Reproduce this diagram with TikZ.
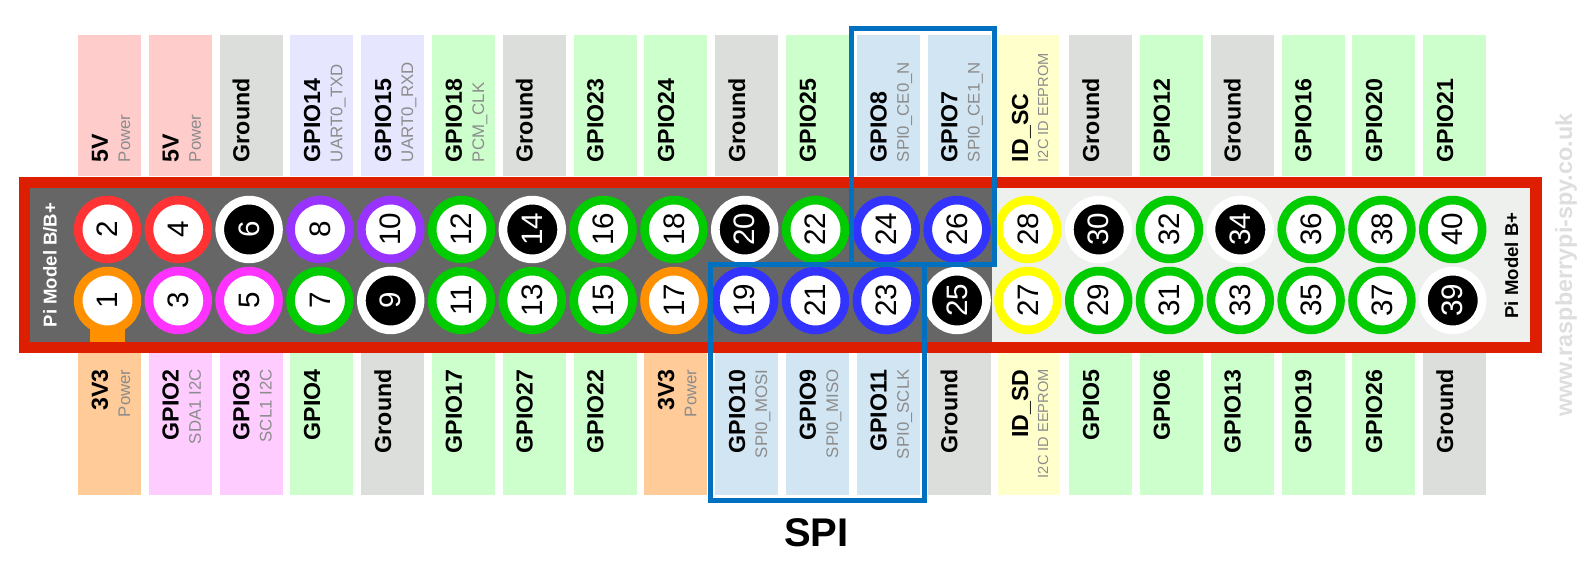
\documentclass[tikz,border=0pt]{standalone}
\usepackage{xcolor}
\usepackage{fontspec}
\setmainfont{Liberation Sans}
\usepackage{tikz}
\definecolor{framered}{HTML}{DD1E00}
\definecolor{boardgrey}{HTML}{666666}
\definecolor{boardlight}{HTML}{EEF0EE}
\definecolor{spiblue}{HTML}{0070C0}
\definecolor{subgrey}{HTML}{8C8C8C}
\definecolor{webgrey}{HTML}{DDDFDD}
\definecolor{ringred}{HTML}{FF3333}
\definecolor{ringorange}{HTML}{FF9000}
\definecolor{ringpink}{HTML}{FF33FF}
\definecolor{ringpurple}{HTML}{9933FF}
\definecolor{ringgreen}{HTML}{00CC00}
\definecolor{ringblue}{HTML}{3333FF}
\definecolor{ringyellow}{HTML}{FFFF00}
\definecolor{stripred}{HTML}{FFCCCC}
\definecolor{striporange}{HTML}{FFCC99}
\definecolor{strippink}{HTML}{FFCCFF}
\definecolor{stripgrey}{HTML}{DCDEDC}
\definecolor{striplilac}{HTML}{E6E6FF}
\definecolor{stripgreen}{HTML}{CCFFCC}
\definecolor{stripblue}{HTML}{D2E5F2}
\definecolor{stripyellow}{HTML}{FFFFCC}
\tikzset{
  pinring/.style={circle, inner sep=0pt, minimum size=29.35pt, line width=4.35pt, fill=white, rotate=90, font=\fontsize{14.8}{14.8}\selectfont},
  pinred/.style={pinring, draw=ringred},
  pinorange/.style={pinring, draw=ringorange},
  pinpink/.style={pinring, draw=ringpink},
  pinpurple/.style={pinring, draw=ringpurple},
  pingreen/.style={pinring, draw=ringgreen},
  pinblue/.style={pinring, draw=ringblue},
  pinyellow/.style={pinring, draw=ringyellow},
  pinground/.style={pinring, draw=white, fill=black, text=white},
  mainlabel/.style={rotate=90, inner sep=0pt, font=\fontsize{11.6}{11.6}\selectfont\bfseries},
  sublabel/.style={rotate=90, inner sep=0pt, text=subgrey, font=\fontsize{8.4}{8.4}\selectfont},
  idlabel/.style={sublabel, font=\fontsize{7.3}{7.3}\selectfont},
  modellabel/.style={rotate=90, inner sep=0pt, font=\fontsize{9.3}{9.3}\selectfont\bfseries},
  spibox/.style={draw=spiblue, line width=2.5pt}
}
\begin{document}
\begin{tikzpicture}[x=0.5pt, y=-0.5pt]
  \useasboundingbox (0,0) rectangle (1594,576);

  % Top strips
  \fill[stripred] (78,35) rectangle +(63,141);
  \fill[stripred] (148.8,35) rectangle +(63,141);
  \fill[stripgrey] (219.6,35) rectangle +(63,141);
  \fill[striplilac] (290.4,35) rectangle +(63,141);
  \fill[striplilac] (361.2,35) rectangle +(63,141);
  \fill[stripgreen] (432,35) rectangle +(63,141);
  \fill[stripgrey] (502.8,35) rectangle +(63,141);
  \fill[stripgreen] (573.6,35) rectangle +(63,141);
  \fill[stripgreen] (644.4,35) rectangle +(63,141);
  \fill[stripgrey] (715.2,35) rectangle +(63,141);
  \fill[stripgreen] (786,35) rectangle +(63,141);
  \fill[stripblue] (856.8,35) rectangle +(63,141);
  \fill[stripblue] (927.6,35) rectangle +(63,141);
  \fill[stripyellow] (998,35) rectangle +(61,141);
  \fill[stripgrey] (1069.2,35) rectangle +(63,141);
  \fill[stripgreen] (1140,35) rectangle +(63,141);
  \fill[stripgrey] (1210.8,35) rectangle +(63,141);
  \fill[stripgreen] (1281.6,35) rectangle +(63,141);
  \fill[stripgreen] (1352.4,35) rectangle +(63,141);
  \fill[stripgreen] (1423.2,35) rectangle +(63,141);

  % Bottom strips
  \fill[striporange] (78,345) rectangle +(63,150);
  \fill[strippink] (148.8,345) rectangle +(63,150);
  \fill[strippink] (219.6,345) rectangle +(63,150);
  \fill[stripgreen] (290.4,345) rectangle +(63,150);
  \fill[stripgrey] (361.2,345) rectangle +(63,150);
  \fill[stripgreen] (432,345) rectangle +(63,150);
  \fill[stripgreen] (502.8,345) rectangle +(63,150);
  \fill[stripgreen] (573.6,345) rectangle +(63,150);
  \fill[striporange] (644.4,345) rectangle +(63,150);
  \fill[stripblue] (715.2,345) rectangle +(63,150);
  \fill[stripblue] (786,345) rectangle +(63,150);
  \fill[stripblue] (856.8,345) rectangle +(63,150);
  \fill[stripgrey] (927.6,345) rectangle +(63,150);
  \fill[stripyellow] (998,345) rectangle +(61,150);
  \fill[stripgreen] (1069.2,345) rectangle +(63,150);
  \fill[stripgreen] (1140,345) rectangle +(63,150);
  \fill[stripgreen] (1210.8,345) rectangle +(63,150);
  \fill[stripgreen] (1281.6,345) rectangle +(63,150);
  \fill[stripgreen] (1352.4,345) rectangle +(63,150);
  \fill[stripgrey] (1423.2,345) rectangle +(63,150);

  % Top labels
  \node[mainlabel, anchor=base west] (lab2) at (107.8,162.5) {5V};
  \node[sublabel, anchor=base west] (sub2) at (130,162.5) {Power};
  \node[mainlabel, anchor=base west] (lab4) at (178.6,162.5) {5V};
  \node[sublabel, anchor=base west] (sub4) at (200.8,162.5) {Power};
  \node[mainlabel, anchor=base west] (lab6) at (249.4,162.5) {Ground};
  \node[mainlabel, anchor=base west] (lab8) at (320.2,162.5) {GPIO14};
  \node[sublabel, anchor=base west] (sub8) at (342.4,162.5) {UART0\_TXD};
  \node[mainlabel, anchor=base west] (lab10) at (391,162.5) {GPIO15};
  \node[sublabel, anchor=base west] (sub10) at (413.2,162.5) {UART0\_RXD};
  \node[mainlabel, anchor=base west] (lab12) at (461.8,162.5) {GPIO18};
  \node[sublabel, anchor=base west] (sub12) at (484,162.5) {PCM\_CLK};
  \node[mainlabel, anchor=base west] (lab14) at (532.6,162.5) {Ground};
  \node[mainlabel, anchor=base west] (lab16) at (603.4,162.5) {GPIO23};
  \node[mainlabel, anchor=base west] (lab18) at (674.2,162.5) {GPIO24};
  \node[mainlabel, anchor=base west] (lab20) at (745,162.5) {Ground};
  \node[mainlabel, anchor=base west] (lab22) at (815.8,162.5) {GPIO25};
  \node[mainlabel, anchor=base west] (lab24) at (886.6,162.5) {GPIO8};
  \node[sublabel, anchor=base west] (sub24) at (908.8,162.5) {SPI0\_CE0\_N};
  \node[mainlabel, anchor=base west] (lab26) at (957.4,162.5) {GPIO7};
  \node[sublabel, anchor=base west] (sub26) at (979.6,162.5) {SPI0\_CE1\_N};
  \node[mainlabel, anchor=base west] (lab28) at (1028.2,162.5) {ID\_SC};
  \node[idlabel, anchor=base west] (sub28) at (1048,162.5) {I2C ID EEPROM};
  \node[mainlabel, anchor=base west] (lab30) at (1099,162.5) {Ground};
  \node[mainlabel, anchor=base west] (lab32) at (1169.8,162.5) {GPIO12};
  \node[mainlabel, anchor=base west] (lab34) at (1240.6,162.5) {Ground};
  \node[mainlabel, anchor=base west] (lab36) at (1311.4,162.5) {GPIO16};
  \node[mainlabel, anchor=base west] (lab38) at (1382.2,162.5) {GPIO20};
  \node[mainlabel, anchor=base west] (lab40) at (1453,162.5) {GPIO21};

  % Bottom labels
  \node[mainlabel, anchor=base east] (lab1) at (107.8,369) {3V3};
  \node[sublabel, anchor=base east] (sub1) at (130,369) {Power};
  \node[mainlabel, anchor=base east] (lab3) at (178.6,369) {GPIO2};
  \node[sublabel, anchor=base east] (sub3) at (200.8,369) {SDA1 I2C};
  \node[mainlabel, anchor=base east] (lab5) at (249.4,369) {GPIO3};
  \node[sublabel, anchor=base east] (sub5) at (271.6,369) {SCL1 I2C};
  \node[mainlabel, anchor=base east] (lab7) at (320.2,369) {GPIO4};
  \node[mainlabel, anchor=base east] (lab9) at (391,369) {Ground};
  \node[mainlabel, anchor=base east] (lab11) at (461.8,369) {GPIO17};
  \node[mainlabel, anchor=base east] (lab13) at (532.6,369) {GPIO27};
  \node[mainlabel, anchor=base east] (lab15) at (603.4,369) {GPIO22};
  \node[mainlabel, anchor=base east] (lab17) at (674.2,369) {3V3};
  \node[sublabel, anchor=base east] (sub17) at (696.4,369) {Power};
  \node[mainlabel, anchor=base east] (lab19) at (745,369) {GPIO10};
  \node[sublabel, anchor=base east] (sub19) at (767.2,369) {SPI0\_MOSI};
  \node[mainlabel, anchor=base east] (lab21) at (815.8,369) {GPIO9};
  \node[sublabel, anchor=base east] (sub21) at (838,369) {SPI0\_MISO};
  \node[mainlabel, anchor=base east] (lab23) at (886.6,369) {GPIO11};
  \node[sublabel, anchor=base east] (sub23) at (908.8,369) {SPI0\_SCLK};
  \node[mainlabel, anchor=base east] (lab25) at (957.4,369) {Ground};
  \node[mainlabel, anchor=base east] (lab27) at (1028.2,369) {ID\_SD};
  \node[idlabel, anchor=base east] (sub27) at (1048,369) {I2C ID EEPROM};
  \node[mainlabel, anchor=base east] (lab29) at (1099,369) {GPIO5};
  \node[mainlabel, anchor=base east] (lab31) at (1169.8,369) {GPIO6};
  \node[mainlabel, anchor=base east] (lab33) at (1240.6,369) {GPIO13};
  \node[mainlabel, anchor=base east] (lab35) at (1311.4,369) {GPIO19};
  \node[mainlabel, anchor=base east] (lab37) at (1382.2,369) {GPIO26};
  \node[mainlabel, anchor=base east] (lab39) at (1453,369) {Ground};

  % Header board
  \fill[framered] (19,177) rectangle (1542,353);
  \fill[boardgrey] (30,188) rectangle (992,342);
  \fill[boardlight] (992,188) rectangle (1530,342);
  \node[modellabel, white, anchor=base] (modela) at (56.5,265) {Pi Model B/B+};
  \node[modellabel, anchor=base] (modelb) at (1518,265.5) {Pi Model B+};

  % Pin 1 tab
  \fill[ringorange] (90,310) rectangle (125,342);

  % Top row pins
  \node[pinred] (pin2) at (107.5,229.5) {2};
  \node[pinred] (pin4) at (178.3,229.5) {4};
  \node[pinground] (pin6) at (249.1,229.5) {6};
  \node[pinpurple] (pin8) at (319.9,229.5) {8};
  \node[pinpurple] (pin10) at (390.7,229.5) {10};
  \node[pingreen] (pin12) at (461.5,229.5) {12};
  \node[pinground] (pin14) at (532.3,229.5) {14};
  \node[pingreen] (pin16) at (603.1,229.5) {16};
  \node[pingreen] (pin18) at (673.9,229.5) {18};
  \node[pinground] (pin20) at (744.7,229.5) {20};
  \node[pingreen] (pin22) at (815.5,229.5) {22};
  \node[pinblue] (pin24) at (886.3,229.5) {24};
  \node[pinblue] (pin26) at (957.1,229.5) {26};
  \node[pinyellow] (pin28) at (1027.9,229.5) {28};
  \node[pinground] (pin30) at (1098.7,229.5) {30};
  \node[pingreen] (pin32) at (1169.5,229.5) {32};
  \node[pinground] (pin34) at (1240.3,229.5) {34};
  \node[pingreen] (pin36) at (1311.1,229.5) {36};
  \node[pingreen] (pin38) at (1381.9,229.5) {38};
  \node[pingreen] (pin40) at (1452.7,229.5) {40};

  % Bottom row pins
  \node[pinorange] (pin1) at (107.5,300.5) {1};
  \node[pinpink] (pin3) at (178.3,300.5) {3};
  \node[pinpink] (pin5) at (249.1,300.5) {5};
  \node[pingreen] (pin7) at (319.9,300.5) {7};
  \node[pinground] (pin9) at (390.7,300.5) {9};
  \node[pingreen] (pin11) at (461.5,300.5) {11};
  \node[pingreen] (pin13) at (532.3,300.5) {13};
  \node[pingreen] (pin15) at (603.1,300.5) {15};
  \node[pinorange] (pin17) at (673.9,300.5) {17};
  \node[pinblue] (pin19) at (744.7,300.5) {19};
  \node[pinblue] (pin21) at (815.5,300.5) {21};
  \node[pinblue] (pin23) at (886.3,300.5) {23};
  \node[pinground] (pin25) at (957.1,300.5) {25};
  \node[pinyellow] (pin27) at (1027.9,300.5) {27};
  \node[pingreen] (pin29) at (1098.7,300.5) {29};
  \node[pingreen] (pin31) at (1169.5,300.5) {31};
  \node[pingreen] (pin33) at (1240.3,300.5) {33};
  \node[pingreen] (pin35) at (1311.1,300.5) {35};
  \node[pingreen] (pin37) at (1381.9,300.5) {37};
  \node[pinground] (pin39) at (1452.7,300.5) {39};

  % SPI outlines
  \draw[spibox] (851.5,28.5) rectangle (994.5,265);
  \draw[spibox] (710.5,265) rectangle (924.5,500.5);
  \node[anchor=base, font=\fontsize{20}{20}\selectfont\bfseries] (spi) at (816.5,546.5) {SPI};

  % Site name
  \node[rotate=90, anchor=base, inner sep=0pt, webgrey, font=\fontsize{11.7}{11.7}\selectfont\bfseries] (site) at (1572,265) {www.raspberrypi-spy.co.uk};
\end{tikzpicture}
\end{document}
